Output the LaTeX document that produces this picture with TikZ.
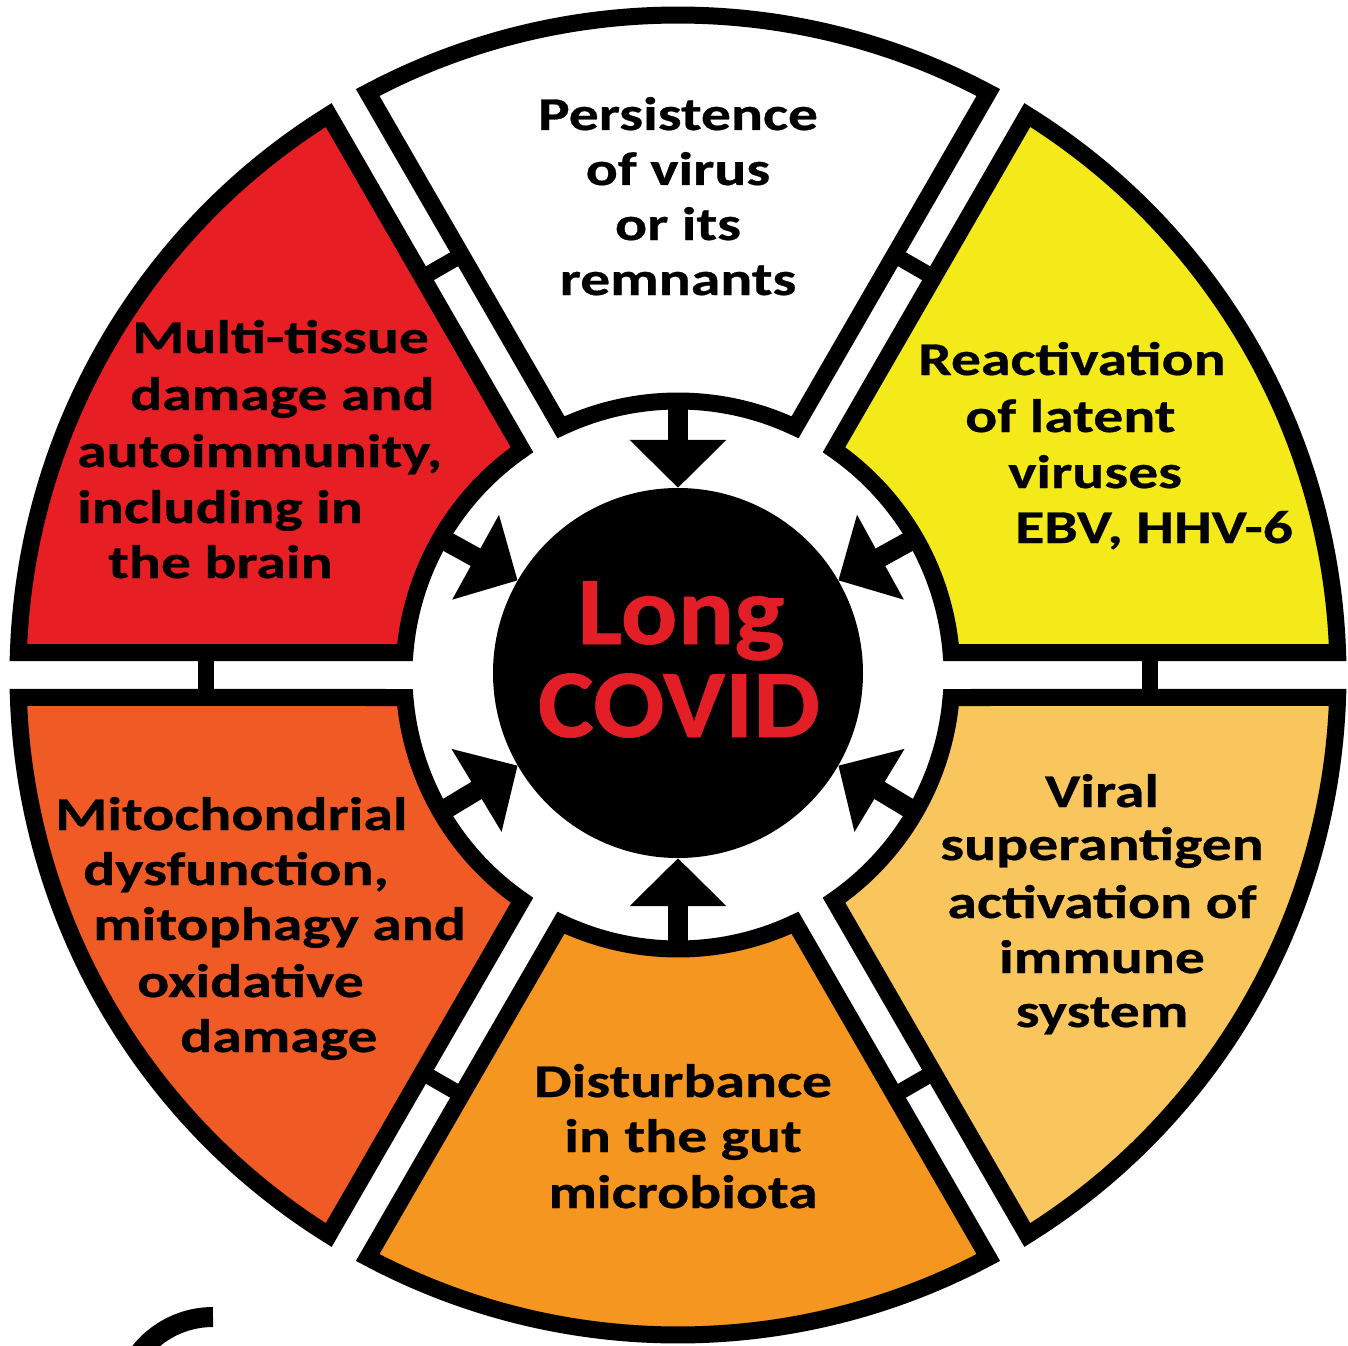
\documentclass[tikz,border=0pt]{standalone}
\usepackage{fontspec}
\newfontfamily\lblfont{Carlito}[FakeStretch=1.27,FakeBold=0.6]
\newfontfamily\ctrfont{Carlito}[FakeStretch=1.09,FakeBold=0.6]
\usetikzlibrary{arrows.meta}
\definecolor{cYellow}{RGB}{244,234,26}
\definecolor{cRed}{RGB}{232,30,37}
\definecolor{cRedOrange}{RGB}{239,90,37}
\definecolor{cOrange}{RGB}{245,150,32}
\definecolor{cLightOrange}{RGB}{248,198,92}
\definecolor{cTextRed}{RGB}{228,30,38}
\begin{document}
\begin{tikzpicture}[x=1pt,y=1pt,
  sector/.style={draw=black, line width=17pt, line join=miter},
  gapbar/.style={draw=black, line width=16pt},
  inarrow/.style={draw=black, line width=20pt, -{Triangle[length=48pt,width=94pt]}},
  lbl/.style={inner sep=0pt, text=black, font=\lblfont\bfseries\fontsize{47}{56}\selectfont},
  ctr/.style={inner sep=0pt, text=cTextRed, font=\ctrfont\bfseries\fontsize{97}{100}\selectfont},
]
\useasboundingbox (-678,-670) rectangle (670,675);
\fill[white] (-678,-670) rectangle (670,675);

\def\Ro{660}
\def\Ri{274}
\def\hg{22.5}
\pgfmathsetmacro\da{asin(\hg/\Ro)}
\pgfmathsetmacro\db{asin(\hg/\Ri)}

% sectors
\foreach \a/\b/\c in {0/60/cYellow, 60/120/white, 120/180/cRed, 180/240/cRedOrange, 240/300/cOrange, 300/360/cLightOrange}{
  \draw[sector, fill=\c] ({\a+\da}:\Ro) arc[start angle={\a+\da}, end angle={\b-\da}, radius=\Ro]
    -- ({\b-\db}:\Ri) arc[start angle={\b-\db}, end angle={\a+\db}, radius=\Ri] -- cycle;
}

% bars across the gaps
\foreach \a in {0,60,...,300}{
  \draw[gapbar, rotate=\a] (472,-\hg) -- (472,\hg);
}

% centre
\node[circle, fill=black, minimum size=370pt, inner sep=0pt] (lc) at (0,2) {};
\node[ctr, anchor=base] (lclong) at (3,31) {Long};
\node[ctr, anchor=base] (lccovid) at (1,-62) {COVID};

% arrows
\foreach \a in {30,90,150,210,270,330}{
  \coordinate (src\a) at (\a:\Ri);
  \draw[inarrow] (src\a) -- (lc.\a);
}

% fragment at bottom left
\begin{scope}
  \clip (-678,-670) rectangle (670,675);
  \draw[line width=20pt] (-465,-735) ++(90:93) arc[start angle=90, end angle=170, radius=93];
\end{scope}

% white sector
\node[lbl, anchor=base] (w1) at (0,545) {Persistence};
\node[lbl, anchor=base] (w2) at (0,490) {of virus};
\node[lbl, anchor=base] (w3) at (0,435) {or its};
\node[lbl, anchor=base] (w4) at (0,380) {remnants};

% red sector
\node[lbl, anchor=base west] (r1) at (-546,322) {Multi-tissue};
\node[lbl, anchor=base west] (r2) at (-548,265) {damage and};
\node[lbl, anchor=base west] (r3) at (-601,208) {autoimmunity,};
\node[lbl, anchor=base west] (r4) at (-601,152) {including in};
\node[lbl, anchor=base west] (r5) at (-570,97) {the brain};

% yellow sector
\node[lbl, anchor=base west] (y1) at (240,300) {Reactivation};
\node[lbl, anchor=base west] (y2) at (287,243) {of latent};
\node[lbl, anchor=base west] (y3) at (330,187) {viruses};
\node[lbl, anchor=base west] (y4) at (337,132) {EBV, HHV-6};

% red-orange sector
\node[lbl, anchor=base west] (o1) at (-623,-155) {Mitochondrial};
\node[lbl, anchor=base west] (o2) at (-595,-210) {dysfunction,};
\node[lbl, anchor=base west] (o3) at (-585,-265) {mitophagy and};
\node[lbl, anchor=base west] (o4) at (-541,-322) {oxidative};
\node[lbl, anchor=base west] (o5) at (-498,-377) {damage};

% light orange sector
\node[lbl, anchor=base] (l1) at (424,-132) {Viral};
\node[lbl, anchor=base] (l2) at (424,-185) {superantigen};
\node[lbl, anchor=base] (l3) at (424,-243) {activation of};
\node[lbl, anchor=base] (l4) at (424,-298) {immune};
\node[lbl, anchor=base] (l5) at (424,-352) {system};

% orange sector
\node[lbl, anchor=base] (g1) at (5,-422) {Disturbance};
\node[lbl, anchor=base] (g2) at (5,-477) {in the gut};
\node[lbl, anchor=base] (g3) at (5,-533) {microbiota};
\end{tikzpicture}
\end{document}
